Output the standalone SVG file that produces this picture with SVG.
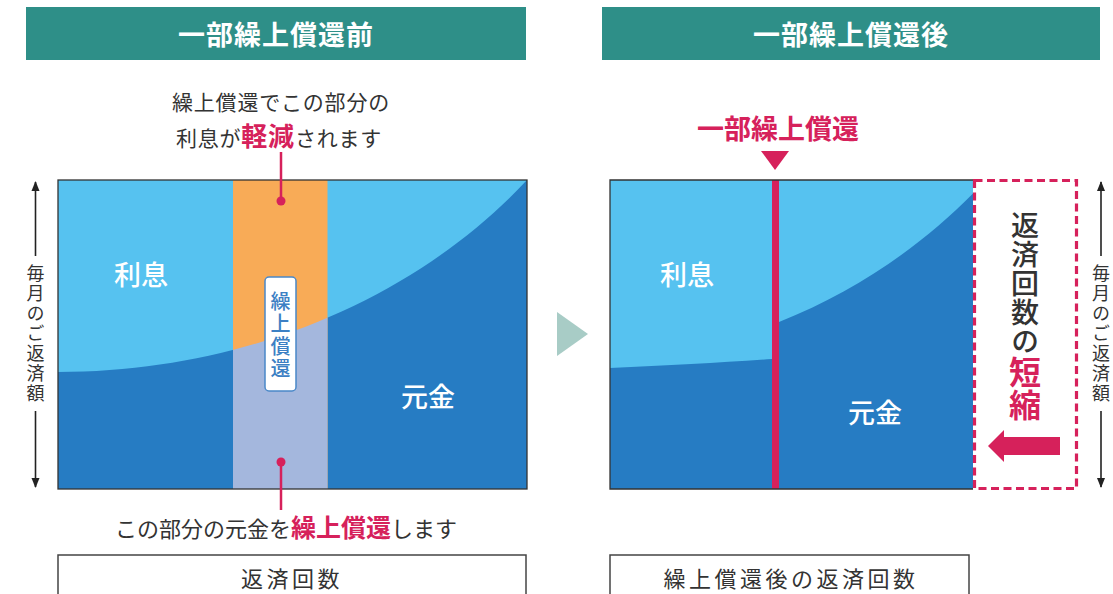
<svg xmlns="http://www.w3.org/2000/svg" width="1113" height="594" viewBox="0 0 1113 594">
<style>
.hdr{fill:#2E8F88}
.ht{font-family:"Noto Sans CJK JP","Noto Sans",sans-serif;font-size:27px;font-weight:700;fill:#fff;text-anchor:middle;letter-spacing:1px}
.t{font-family:"Noto Sans CJK JP","Noto Sans",sans-serif;fill:#333;text-anchor:middle}
.pk{fill:#D6215B;font-weight:700}
.w{font-family:"Noto Sans CJK JP","Noto Sans",sans-serif;font-size:27px;font-weight:500;fill:#fff;text-anchor:middle}
.lb{fill:#56C2F0}
.db{fill:#267CC3}
.ax{stroke:#222;stroke-width:1.6;fill:none}
.vt{font-family:"Noto Sans CJK JP","Noto Sans",sans-serif;writing-mode:vertical-rl;text-anchor:start}
.axt{font-size:18px;fill:#333;letter-spacing:2px}
.box{fill:#fff;stroke:#444;stroke-width:1.5}
</style>
<defs>
<marker id="ah" viewBox="0 0 10 10" refX="9" refY="5" markerWidth="10" markerHeight="10" markerUnits="userSpaceOnUse" orient="auto">
<path d="M0,1 L10,5 L0,9 Z" fill="#222"/>
</marker>
<clipPath id="lowL"><path d="M58,372 C250,372 420,295 527,180 L527,489 L58,489 Z"/></clipPath>
<clipPath id="chartR"><rect x="610" y="180" width="363" height="309"/></clipPath>
</defs>

<g id="header-before">
<rect class="hdr" x="26" y="7" width="500" height="53"/>
<text class="ht" x="276" y="45">一部繰上償還前</text>
</g>
<g id="header-after">
<rect class="hdr" x="602" y="7" width="498" height="53"/>
<text class="ht" x="851" y="45">一部繰上償還後</text>
</g>

<g id="note-top">
<text class="t" x="281" y="110" font-size="21" letter-spacing="0.8">繰上償還でこの部分の</text>
<text class="t" x="279" y="146" font-size="21" letter-spacing="0.8">利息が<tspan class="pk" font-size="26">軽減</tspan>されます</text>
</g>

<g id="chart-before">
<rect class="lb" x="58" y="180" width="469" height="309"/>
<path class="db" d="M58,372 C250,372 420,295 527,180 L527,489 L58,489 Z"/>
<rect x="233" y="180" width="94.5" height="309" fill="#F8AB57"/>
<rect x="233" y="180" width="94.5" height="309" fill="#A4B7DD" clip-path="url(#lowL)"/>
<rect x="58" y="180" width="469" height="309" fill="none" stroke="#333" stroke-width="1.3"/>
<text class="w" x="141" y="285">利息</text>
<text class="w" x="428" y="407">元金</text>
</g>

<g id="label-prepay">
<rect x="265" y="277" width="31" height="114" rx="4" fill="#fff" stroke="#4A88C8" stroke-width="1.5"/>
<text class="vt" x="280.5" y="291" font-size="20" font-weight="500" fill="#3C80C4" letter-spacing="2.5">繰上償還</text>
</g>

<g id="connectors">
<line x1="281" y1="152" x2="281" y2="201" stroke="#D6215B" stroke-width="2.5"/>
<circle cx="281" cy="201" r="4.5" fill="#D6215B"/>
<line x1="281" y1="462" x2="281" y2="510" stroke="#D6215B" stroke-width="2.5"/>
<circle cx="281" cy="462" r="4.5" fill="#D6215B"/>
<polygon points="557,312 588,334 557,356" fill="#A8CCC6"/>
<polygon points="761,151 789,151 775,170" fill="#D6215B"/>
</g>

<g id="axis-left">
<line class="ax" x1="35.5" y1="256" x2="35.5" y2="182" marker-end="url(#ah)"/>
<line class="ax" x1="35.5" y1="411" x2="35.5" y2="487" marker-end="url(#ah)"/>
<text class="vt axt" x="35.5" y="264">毎月のご返済額</text>
</g>

<g id="note-bottom">
<text class="t" x="286" y="537" font-size="22">この部分の元金を<tspan class="pk" font-size="25">繰上償還</tspan>します</text>
</g>

<g id="chart-after">
<rect class="lb" x="610" y="180" width="363" height="309"/>
<path class="db" d="M610,368 Q700,364 772,359 L772,489 L610,489 Z"/>
<path class="db" clip-path="url(#chartR)" d="M779,322 C860,290 930,240 984,182 L984,489 L779,489 Z"/>
<rect x="772" y="180" width="7" height="309" fill="#D6215B"/>
<path d="M973,180 L610,180 L610,489 L973,489" fill="none" stroke="#333" stroke-width="1.3"/>
<text class="w" x="687" y="285">利息</text>
<text class="w" x="875" y="423">元金</text>
</g>

<g id="label-partial">
<text class="t pk" x="778" y="139" font-size="27">一部繰上償還</text>
</g>

<g id="shortening-box">
<rect x="974.5" y="180.5" width="102" height="308" fill="#fff" stroke="#D6215B" stroke-width="3.2" stroke-dasharray="8,4.5"/>
<text class="vt" x="1025" y="211" font-size="28" font-weight="500" fill="#333" letter-spacing="1">返済回数の<tspan fill="#D6215B" font-weight="700" font-size="32">短縮</tspan></text>
<polygon points="988,446 1004,430 1004,437 1060,437 1060,455 1004,455 1004,462" fill="#D6215B"/>
</g>

<g id="axis-right">
<line class="ax" x1="1101" y1="256" x2="1101" y2="182" marker-end="url(#ah)"/>
<line class="ax" x1="1101" y1="411" x2="1101" y2="487" marker-end="url(#ah)"/>
<text class="vt axt" x="1101" y="264">毎月のご返済額</text>
</g>

<g id="count-before">
<rect class="box" x="58" y="555" width="468" height="50"/>
<text class="t" x="292" y="587" font-size="22" letter-spacing="3.5">返済回数</text>
</g>
<g id="count-after">
<rect class="box" x="610" y="555" width="359" height="50"/>
<text class="t" x="791" y="587" font-size="22" letter-spacing="3.5">繰上償還後の返済回数</text>
</g>
</svg>
